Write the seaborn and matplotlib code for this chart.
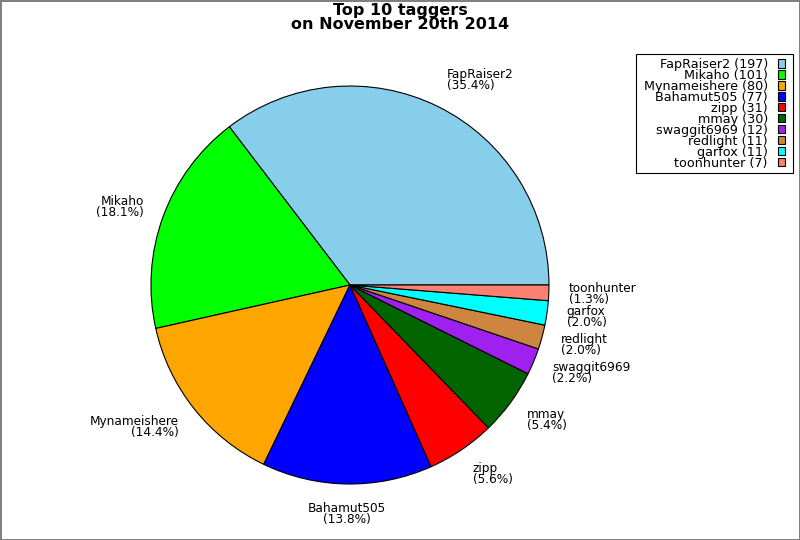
import matplotlib
matplotlib.use("Agg")
import matplotlib.pyplot as plt
from matplotlib.patches import Rectangle
import seaborn as sns

sns.set_theme(style="white")
plt.rcParams['font.family'] = ['DejaVu Sans']
plt.rcParams['text.color'] = 'black'

names = ["FapRaiser2", "Mikaho", "Mynameishere", "Bahamut505", "zipp",
         "mmay", "swaggit6969", "redlight", "garfox", "toonhunter"]
counts = [197, 101, 80, 77, 31, 30, 12, 11, 11, 7]
colors = ["#87ceeb", "#00ff00", "#ffa500", "#0000ff", "#ff0000",
          "#006400", "#a020f0", "#cd853f", "#00ffff", "#fa8072"]
title = "Top 10 taggers\non November 20th 2014"

total = sum(counts)
labels = [f"{n}\n({c / total * 100:.1f}%)" for n, c in zip(names, counts)]
legend_labels = [f"{n} ({c})" for n, c in zip(names, counts)]

fig = plt.figure(figsize=(8, 5.4), dpi=100)
fig.patch.set_edgecolor("#808080")
fig.patch.set_linewidth(2)
ax = fig.add_axes([0.1887, 0.1037, 0.4975, 0.737])

wedges, texts = ax.pie(counts, labels=labels, colors=colors, startangle=0,
                       counterclock=True, labeldistance=1.1,
                       wedgeprops=dict(edgecolor="black", linewidth=0.8),
                       textprops=dict(fontsize=8.7, linespacing=0.8,
                                      color="black"))
for t in texts:
    x, y = t.get_position()
    t.set_position((x, y * 1.045))
    if abs(x) < 0.05:
        t.set_ha("center")
ax.set_aspect("equal")
ax.set_xlim(-1, 1)
ax.set_ylim(-1, 1)

fig.suptitle(title, fontsize=11.5, fontweight="bold", y=0.995,
             linespacing=0.95, color="black")

leg = fig.legend(wedges, legend_labels, loc="upper right",
                 bbox_to_anchor=(785 / 800, 1 - 58 / 540), markerfirst=False,
                 fontsize=9.2, handlelength=0.55, handleheight=0.62,
                 labelspacing=-0.16, handletextpad=0.8, borderpad=0,
                 borderaxespad=0, frameon=False)
for txt in leg.get_texts():
    txt.set_color("black")
for h in leg.legend_handles:
    h.set_linewidth(0.8)
    h.set_edgecolor("black")

fig.canvas.draw()
bb = leg.get_window_extent()
padx, pad_top, pad_bottom = 8, 4, 3
inv = fig.transFigure.inverted()
(x0, y0) = inv.transform((bb.x0 - padx, bb.y0 - pad_bottom))
(x1, y1) = inv.transform((bb.x1 + padx, bb.y1 + pad_top))
frame = Rectangle((x0, y0), x1 - x0, y1 - y0, transform=fig.transFigure,
                  facecolor="white", edgecolor="black", linewidth=0.8,
                  zorder=leg.get_zorder() - 0.1)
fig.add_artist(frame)

fig.savefig("out.png", dpi=100, edgecolor=fig.get_edgecolor())
